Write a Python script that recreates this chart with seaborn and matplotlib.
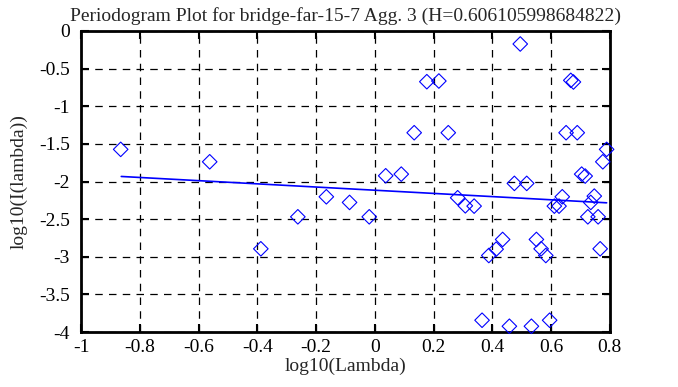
import pandas as pd
import matplotlib
matplotlib.use("Agg")
import matplotlib.pyplot as plt
import seaborn as sns

# ------------------------------------------------------
# Data
# ------------------------------------------------------
log_lambda = [
    -0.865, -0.562, 0.495, 0.177, 0.218, 0.667, 0.676, 0.134, 0.250, 0.651,
    0.689, 0.789, 0.776, 0.037, 0.090, 0.704, 0.716, 0.475, 0.517, -0.165,
    -0.086, -0.262, -0.019, -0.388, 0.282, 0.308, 0.338, 0.638, 0.611, 0.627,
    0.747, 0.735, 0.725, 0.760, 0.435, 0.413, 0.388, 0.550, 0.566, 0.582,
    0.767, 0.365, 0.458, 0.533, 0.595,
]
log_I = [
    -1.573, -1.738, -0.173, -0.674, -0.665, -0.656, -0.678, -1.352, -1.352, -1.352,
    -1.352, -1.573, -1.738, -1.924, -1.902, -1.902, -1.928, -2.025, -2.025, -2.203,
    -2.278, -2.469, -2.469, -2.894, -2.216, -2.323, -2.327, -2.203, -2.327, -2.327,
    -2.194, -2.278, -2.469, -2.469, -2.770, -2.899, -2.983, -2.770, -2.894, -2.983,
    -2.894, -3.843, -3.923, -3.923, -3.843,
]

# least-squares fit line end points
fit_x = [-0.863, 0.789]
fit_y = [-1.933, -2.283]

title = "Periodogram Plot for bridge-far-15-7 Agg. 3 (H=0.606105998684822)"
x_ticks = [-1, -0.8, -0.6, -0.4, -0.2, 0, 0.2, 0.4, 0.6, 0.8]
y_ticks = [0, -0.5, -1, -1.5, -2, -2.5, -3, -3.5, -4]

# ------------------------------------------------------
# Plot
# ------------------------------------------------------
sns.set_style("ticks")
plt.rcParams["font.family"] = ["Liberation Serif", "DejaVu Serif"]

df = pd.DataFrame({"x": log_lambda, "y": log_I})
fit = pd.DataFrame({"x": fit_x, "y": fit_y})

fig = plt.figure(figsize=(6.78, 3.87), dpi=100)
ax = fig.add_axes([0.1195, 0.142, 0.780, 0.778])

sns.scatterplot(data=df, x="x", y="y", ax=ax, marker="D", s=55,
                facecolor="none", edgecolor="blue", linewidth=0.8,
                zorder=3, clip_on=False)
sns.lineplot(data=fit, x="x", y="y", ax=ax, color="blue", linewidth=1.2, zorder=4)

ax.set_xlim(-1, 0.8)
ax.set_ylim(-4, 0)
ax.set_xticks(x_ticks)
ax.set_yticks(y_ticks)
ax.set_xticklabels([f"{t:g}" for t in x_ticks])
ax.set_yticklabels([f"{t:g}" for t in y_ticks])
ax.grid(True, color="black", linestyle=(0, (6, 5)), linewidth=0.9)
ax.tick_params(direction="in", length=6, width=1.5, top=True, right=True,
               labelsize=14, colors="black")
ax.tick_params(axis="y", pad=8)
ax.tick_params(axis="x", pad=5)
for sp in ax.spines.values():
    sp.set_visible(True)
    sp.set_linewidth(2)
    sp.set_color("black")

ax.set_title(title, fontsize=14, pad=7)
ax.set_xlabel("log10(Lambda)", fontsize=14, labelpad=1)
ax.set_ylabel("log10(I(lambda))", fontsize=14, labelpad=8)

fig.savefig("out.png", dpi=100)
plt.close(fig)
